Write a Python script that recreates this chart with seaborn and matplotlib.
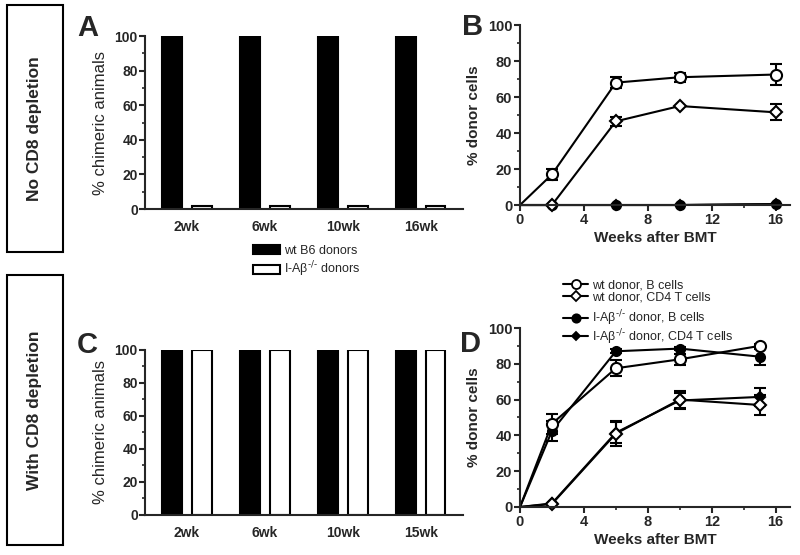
import numpy as np
import pandas as pd
import seaborn as sns
import matplotlib.pyplot as plt
from matplotlib.patches import Rectangle, Patch
from matplotlib.lines import Line2D
from matplotlib.ticker import MultipleLocator

KO = r'I-Aβ$^{\text{-/-}}$'

# panel A / C: % chimeric animals
weeks_a = ['2wk', '6wk', '10wk', '16wk']
wt_a = [100, 100, 100, 100]
ko_a = [2, 2, 2, 2]
weeks_c = ['2wk', '6wk', '10wk', '15wk']
wt_c = [100, 100, 100, 100]
ko_c = [100, 100, 100, 100]

# panel B: no depletion, % donor cells
weeks_b = [0, 2, 6, 10, 16]
b_wt_b = [0, 17, 68, 71, 72.5]
b_wt_b_err = [0, 3, 3, 2.5, 6]
b_wt_t = [0, 0, 46.5, 55, 51.5]
b_wt_t_err = [0, 0, 2.5, 0, 4.5]
b_ko_b = [0, 0, 0, 0, 0.5]
b_ko_t = [0, 0, 0, 0, 0.5]

# panel D: with CD8 depletion
weeks_d = [0, 2, 6, 10, 15]
d_wt_b = [0, 46.5, 77.5, 82.5, 90]
d_wt_b_err = [0, 5.5, 4.5, 3, 1]
d_wt_t = [0, 1.7, 41, 60, 57]
d_wt_t_err = [0, 0, 7, 5, 5.5]
d_ko_b = [0, 42.5, 87, 88.5, 84]
d_ko_b_err = [0, 5.5, 1, 1, 4.5]
d_ko_t = [0, 2, 41.5, 59.5, 61.5]
d_ko_t_err = [0, 0, 6, 4, 5]

sns.set_style('ticks')
plt.rcParams['font.family'] = ['Liberation Sans', 'DejaVu Sans']
plt.rcParams['axes.linewidth'] = 1.5

fig = plt.figure(figsize=(8, 5.55), dpi=100)
axA = fig.add_axes([0.181, 0.6234, 0.3975, 0.3117])
axB = fig.add_axes([0.65, 0.6306, 0.3375, 0.3243])
axC = fig.add_axes([0.181, 0.0721, 0.3975, 0.2973])
axD = fig.add_axes([0.65, 0.0865, 0.3375, 0.3225])


def bars(ax, weeks, wt, ko):
    df = pd.DataFrame({'week': weeks * 2, 'pct': wt + ko,
                       'donor': ['wt'] * len(weeks) + ['ko'] * len(weeks)})
    sns.barplot(data=df, x='week', y='pct', hue='donor', palette=['black', 'white'],
                edgecolor='black', linewidth=1.5, width=0.76, gap=0.33,
                saturation=1, legend=False, ax=ax)
    ax.set_xlim(-0.54, len(weeks) - 0.46)
    ax.set_ylim(0, 100)
    ax.yaxis.set_major_locator(MultipleLocator(20))
    ax.yaxis.set_minor_locator(MultipleLocator(10))
    ax.tick_params(axis='x', length=0, labelsize=10, pad=8)
    ax.tick_params(axis='y', which='major', length=4, width=1.5, labelsize=10, pad=1)
    ax.tick_params(axis='y', which='minor', length=2.5, width=1.2)
    for lab in ax.get_xticklabels() + ax.get_yticklabels():
        lab.set_fontweight('bold')
    ax.set_xlabel('')
    ax.set_ylabel('% chimeric animals', fontsize=12, labelpad=5)
    sns.despine(ax=ax)


def series(ax, x, y, err, marker, face, size):
    sns.lineplot(x=x, y=y, color='black', linewidth=1.5, marker=marker, markersize=size,
                 markerfacecolor=face, markeredgecolor='black', markeredgewidth=1.5,
                 markevery=slice(1, None), clip_on=False, ax=ax)
    if err is not None:
        x, y, err = np.array(x), np.array(y), np.array(err)
        m = err > 0
        ax.errorbar(x[m], y[m], yerr=err[m], fmt='none', ecolor='black',
                    elinewidth=1.5, capsize=4, capthick=1.5, zorder=1)


def lines_axes(ax):
    ax.set_xlim(0, 16.9)
    ax.set_ylim(0, 100)
    ax.xaxis.set_major_locator(MultipleLocator(4))
    ax.xaxis.set_minor_locator(MultipleLocator(2))
    ax.yaxis.set_major_locator(MultipleLocator(20))
    ax.yaxis.set_minor_locator(MultipleLocator(10))
    ax.tick_params(which='major', length=4, width=1.5, labelsize=10.5, pad=1.5)
    ax.tick_params(which='minor', length=2.5, width=1.2)
    for lab in ax.get_xticklabels() + ax.get_yticklabels():
        lab.set_fontweight('bold')
    ax.set_xlabel('Weeks after BMT', fontsize=11, fontweight='bold', labelpad=3)
    ax.set_ylabel('% donor cells', fontsize=11, fontweight='bold', labelpad=5)
    sns.despine(ax=ax)


bars(axA, weeks_a, wt_a, ko_a)
bars(axC, weeks_c, wt_c, ko_c)

series(axB, weeks_b, b_ko_t, None, 'D', 'black', 5)
series(axB, weeks_b, b_ko_b, None, 'o', 'black', 6.5)
series(axB, weeks_b, b_wt_t, b_wt_t_err, 'D', 'white', 6)
series(axB, weeks_b, b_wt_b, b_wt_b_err, 'o', 'white', 8)
lines_axes(axB)

series(axD, weeks_d, d_ko_t, d_ko_t_err, 'D', 'black', 5)
series(axD, weeks_d, d_ko_b, d_ko_b_err, 'o', 'black', 6.5)
series(axD, weeks_d, d_wt_t, d_wt_t_err, 'D', 'white', 6)
series(axD, weeks_d, d_wt_b, d_wt_b_err, 'o', 'white', 8)
lines_axes(axD)

# bar legend under panel A
fig.legend(handles=[Patch(fc='black', ec='black', lw=1.5, label='wt B6 donors'),
                    Patch(fc='white', ec='black', lw=1.5, label=KO + ' donors')],
           loc='upper left', bbox_to_anchor=(0.316, 0.559), frameon=False, fontsize=9,
           handlelength=2.2, handleheight=0.7, handletextpad=0.3, labelspacing=0.25,
           borderpad=0, borderaxespad=0)


def h(marker, face, size):
    return Line2D([], [], color='black', lw=1.5, marker=marker, markersize=size,
                  markerfacecolor=face, markeredgecolor='black', markeredgewidth=1.3)


fig.legend(handles=[h('o', 'white', 6.5), h('D', 'white', 5)],
           labels=['wt donor, B cells', 'wt donor, CD4 T cells'],
           loc='upper left', bbox_to_anchor=(0.704, 0.496), frameon=False,
           fontsize=9, handlelength=2.0, handletextpad=0.3, labelspacing=0,
           borderpad=0, borderaxespad=0)
fig.legend(handles=[h('o', 'black', 6), h('D', 'black', 4.5)],
           labels=[KO + ' donor, B cells', KO + ' donor, CD4 T cells'],
           loc='upper left', bbox_to_anchor=(0.704, 0.444), frameon=False,
           fontsize=9, handlelength=2.0, handletextpad=0.3, labelspacing=-0.1,
           borderpad=0, borderaxespad=0)

# panel letters
for s, x, y in [('A', 0.096, 0.935), ('B', 0.577, 0.937), ('C', 0.096, 0.364), ('D', 0.575, 0.366)]:
    fig.text(x, y, s, fontsize=21, fontweight='bold', ha='left', va='baseline',
             family=['Liberation Sans Narrow', 'Liberation Sans'])

# row boxes on the left
for y0, hgt, label in [(303, 247, 'No CD8 depletion'), (10, 270, 'With CD8 depletion')]:
    fig.add_artist(Rectangle((7 / 800, y0 / 555), 56 / 800, hgt / 555,
                             transform=fig.transFigure, fill=False, ec='black', lw=1.5))
    fig.text(35 / 800, (y0 + hgt / 2) / 555, label, rotation=90, ha='center', va='center',
             fontsize=12.5, fontweight='bold')

fig.savefig('out.png', dpi=100)
